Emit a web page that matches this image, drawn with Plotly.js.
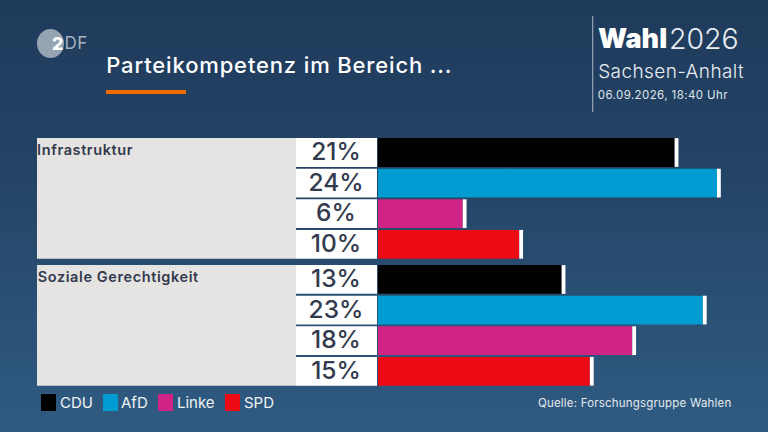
<!DOCTYPE html>
<html><head><meta charset="utf-8">
<script src="https://cdn.plot.ly/plotly-3.0.1.min.js"></script>
<style>html,body{margin:0;padding:0;width:768px;height:432px;overflow:hidden;background:linear-gradient(180deg,#1f3b5c 0%,#234264 35%,#2f5b82 100%)}#c{width:768px;height:432px}</style>
</head><body><div id="c"></div>
<script>
const parties = ['CDU','AfD','Linke','SPD'];
const colors = ['#000000','#009bd0','#cf2385','#ec0a15'];
const groups = ['Infrastruktur','Soziale Gerechtigkeit'];
const cdu = [21,13];
const afd = [24,23];
const linke = [6,18];
const spd = [10,15];
const title = 'Parteikompetenz im Bereich ...';
const source = 'Quelle: Forschungsgruppe Wahlen';

const W=768,H=432, X0=378, PX=14.125, Y0=152.5, PY=30.6;
const series=[cdu,afd,linke,spd];
const groupOffset=4.15;
const yOf=(g,p)=>g*groupOffset+p;
const dx=px=>(px-X0)/PX, dy=py=>(py-Y0)/PY;
const ink='#323a4e', ff='Inter, sans-serif';
const traces=[], shapes=[], ann=[]; let css='';
const rect=(x0,y0,x1,y1,c)=>shapes.push({type:'rect',xref:'paper',yref:'paper',x0:x0/W,x1:x1/W,y0:1-y0/H,y1:1-y1/H,fillcolor:c,line:{width:0},layer:'below'});
const txt=(t,x,y,size,color,opt={})=>{
  const ls=opt.ls||0;
  if(ls) css+=`.annotation[data-index="${ann.length}"] text{letter-spacing:${ls}px}`;
  ann.push({text:t,xref:'paper',yref:'paper',x:(x-1+t.length*ls/2)/W,y:1-y/H,xanchor:'left',yanchor:'middle',showarrow:false,borderpad:0,font:{family:ff,size:size,color:color,weight:opt.weight||400}});
};

// panels
groups.forEach((g,i)=>{
  const top=Y0+PY*(yOf(i,0)-0.47), bot=Y0+PY*(yOf(i,3)+0.47);
  rect(37,top,296,bot,'#e6e4e2');
  txt(g,37.5,top+11.5,14.5,ink,{weight:600,ls:0.6});
  parties.forEach((p,k)=>{
    const a=Y0+PY*(yOf(i,k)-0.47), b=Y0+PY*(yOf(i,k)+0.47);
    rect(296,a,377,b,'#ffffff');
  });
});
// bars
parties.forEach((p,k)=>{
  const vals=series[k], ys=groups.map((g,i)=>yOf(i,k));
  traces.push({type:'bar',orientation:'h',name:p,x:vals,y:ys,width:0.94,marker:{color:colors[k],line:{width:0}},hoverinfo:'skip',showlegend:false});
  traces.push({type:'bar',orientation:'h',x:vals.map(()=>0.27),base:vals,y:ys,width:0.94,marker:{color:'#ffffff',line:{width:0}},hoverinfo:'skip',showlegend:false});
  traces.push({type:'scatter',mode:'text',x:vals.map(()=>dx(336)),y:ys.map(v=>v+0.05),text:vals.map(v=>v+'%'),textposition:'middle center',textfont:{family:ff,size:24.5,color:ink,weight:500},hoverinfo:'skip',showlegend:false});
});
// header
shapes.push({type:'circle',xref:'paper',yref:'paper',x0:37/W,x1:64/W,y0:1-29/H,y1:1-58/H,fillcolor:'#96a3b3',line:{width:0},layer:'below'});
txt('2',52,43.5,18,'#ffffff',{weight:800});
txt('DF',64,43.5,17,'#a7b2c0',{weight:400,ls:0.5});
txt(title,106,65,22,'#ffffff',{weight:500,ls:0.85});
rect(106,90,186,94,'#f26b00');
rect(592,16,593.3,112,'#8d9cae');
txt('Wahl',598,38,27,'#ffffff',{weight:900});
txt('2026',669,38,28.5,'#e8edf2',{weight:300});
txt('Sachsen-Anhalt',598,71,19,'#e8edf2',{weight:300,ls:0.4});
txt('06.09.2026, 18:40 Uhr',598,95,11.5,'#dfe5eb',{weight:400,ls:0.4});
// legend
const legendX=[[41,56,60],[103,118,121],[158,173,177],[225,240,244]];
parties.forEach((p,k)=>{
  rect(legendX[k][0],394,legendX[k][1],411,colors[k]);
  txt(p,legendX[k][2],402,15,'#f0f3f6',{weight:400});
});
txt(source,538,403,11.5,'#e4e9ee',{weight:400,ls:0.2});
const st=document.createElement('style'); st.textContent=css; document.head.appendChild(st);

const layout={width:W,height:H,margin:{l:0,r:0,t:0,b:0,pad:0},paper_bgcolor:'rgba(0,0,0,0)',plot_bgcolor:'rgba(0,0,0,0)',
 barmode:'overlay',showlegend:false,
 xaxis:{range:[dx(0),dx(W)],visible:false,fixedrange:true},
 yaxis:{range:[dy(H),dy(0)],visible:false,fixedrange:true},
 shapes:shapes,annotations:ann};
Plotly.newPlot('c',traces,layout,{displayModeBar:false,staticPlot:true});
</script></body></html>
